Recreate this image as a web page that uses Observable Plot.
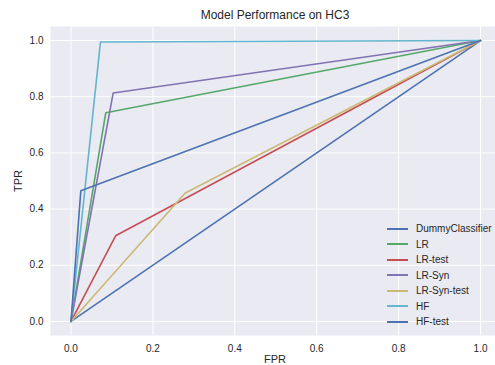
<!DOCTYPE html>
<html><head><meta charset="utf-8">
<script src="https://cdn.jsdelivr.net/npm/d3@7"></script>
<script src="https://cdn.jsdelivr.net/npm/@observablehq/plot@0.6"></script>
<style>
body{margin:0;background:#fff;font-family:"Liberation Sans",Arial,sans-serif;}
#wrap{position:relative;width:495px;height:365px;overflow:hidden;}
.t{position:absolute;color:#262626;white-space:nowrap;line-height:1;}
#legend{position:absolute;left:387px;top:221px;font-size:10px;color:#262626;}
#legend .row{display:flex;align-items:center;height:15.5px;}
#legend .sw{width:21px;height:2px;margin-right:8px;}
</style></head><body>
<div id="wrap"></div>
<script>
const title = "Model Performance on HC3";
const xLabel = "FPR";
const yLabel = "TPR";
const seriesNames = ["DummyClassifier","LR","LR-test","LR-Syn","LR-Syn-test","HF","HF-test"];
const seriesColors = ["#4C72B0","#55A868","#C44E52","#8172B2","#CCB974","#64B5CD","#4C72B0"];
const fprValues = [
  [0, 1],
  [0, 0.085, 1],
  [0, 0.109, 1],
  [0, 0.103, 1],
  [0, 0.279, 1],
  [0, 0.072, 1],
  [0, 0.024, 1]
];
const tprValues = [
  [0, 1],
  [0, 0.743, 1],
  [0, 0.305, 1],
  [0, 0.813, 1],
  [0, 0.457, 1],
  [0, 0.995, 1],
  [0, 0.465, 1]
];
const tickValues = [0, 0.2, 0.4, 0.6, 0.8, 1.0];

const rows = [];
seriesNames.forEach((name, i) => {
  fprValues[i].forEach((x, j) => rows.push({series: name, idx: i, fpr: x, tpr: tprValues[i][j]}));
});

const chart = Plot.plot({
  width: 495, height: 365,
  marginLeft: 50, marginRight: -5.5, marginTop: 26, marginBottom: 30,
  style: {fontFamily: '"Liberation Sans", Arial, sans-serif', fontSize: "10px", color: "#262626", background: "transparent"},
  x: {domain: [-0.05, 1.05], ticks: tickValues, tickFormat: d3.format(".1f"), label: null},
  y: {domain: [-0.05, 1.05], ticks: tickValues, tickFormat: d3.format(".1f"), label: null},
  marks: [
    Plot.frame({fill: "#EAEAF2", stroke: null}),
    Plot.gridX(tickValues, {stroke: "#fff", strokeOpacity: 1, strokeWidth: 1}),
    Plot.gridY(tickValues, {stroke: "#fff", strokeOpacity: 1, strokeWidth: 1}),
    Plot.axisX(tickValues, {tickSize: 0, tickPadding: 9, tickFormat: d3.format(".1f"), fill: "#262626"}),
    Plot.axisY(tickValues, {tickSize: 0, tickPadding: 7, tickFormat: d3.format(".1f"), fill: "#262626"}),
    ...seriesNames.map((name, i) => Plot.line(rows.filter(r => r.idx === i), {
      x: "fpr", y: "tpr", stroke: seriesColors[i], strokeWidth: 1.6
    }))
  ]
});
const wrap = document.getElementById("wrap");
wrap.appendChild(chart);

function addText(txt, css){
  const d = document.createElement("div");
  d.className = "t"; d.textContent = txt; Object.assign(d.style, css); wrap.appendChild(d);
}
addText(title, {left: "275px", top: "9px", transform: "translateX(-50%)", fontSize: "12px"});
addText(xLabel, {left: "275px", top: "354px", transform: "translateX(-50%)", fontSize: "11px"});
addText(yLabel, {left: "18px", top: "181px", transform: "translate(-50%,-50%) rotate(-90deg)", fontSize: "11px"});

const legend = document.createElement("div");
legend.id = "legend";
seriesNames.forEach((n, i) => {
  const r = document.createElement("div"); r.className = "row";
  const s = document.createElement("div"); s.className = "sw"; s.style.background = seriesColors[i];
  const l = document.createElement("span"); l.textContent = n;
  r.appendChild(s); r.appendChild(l); legend.appendChild(r);
});
wrap.appendChild(legend);
</script>
</body></html>
